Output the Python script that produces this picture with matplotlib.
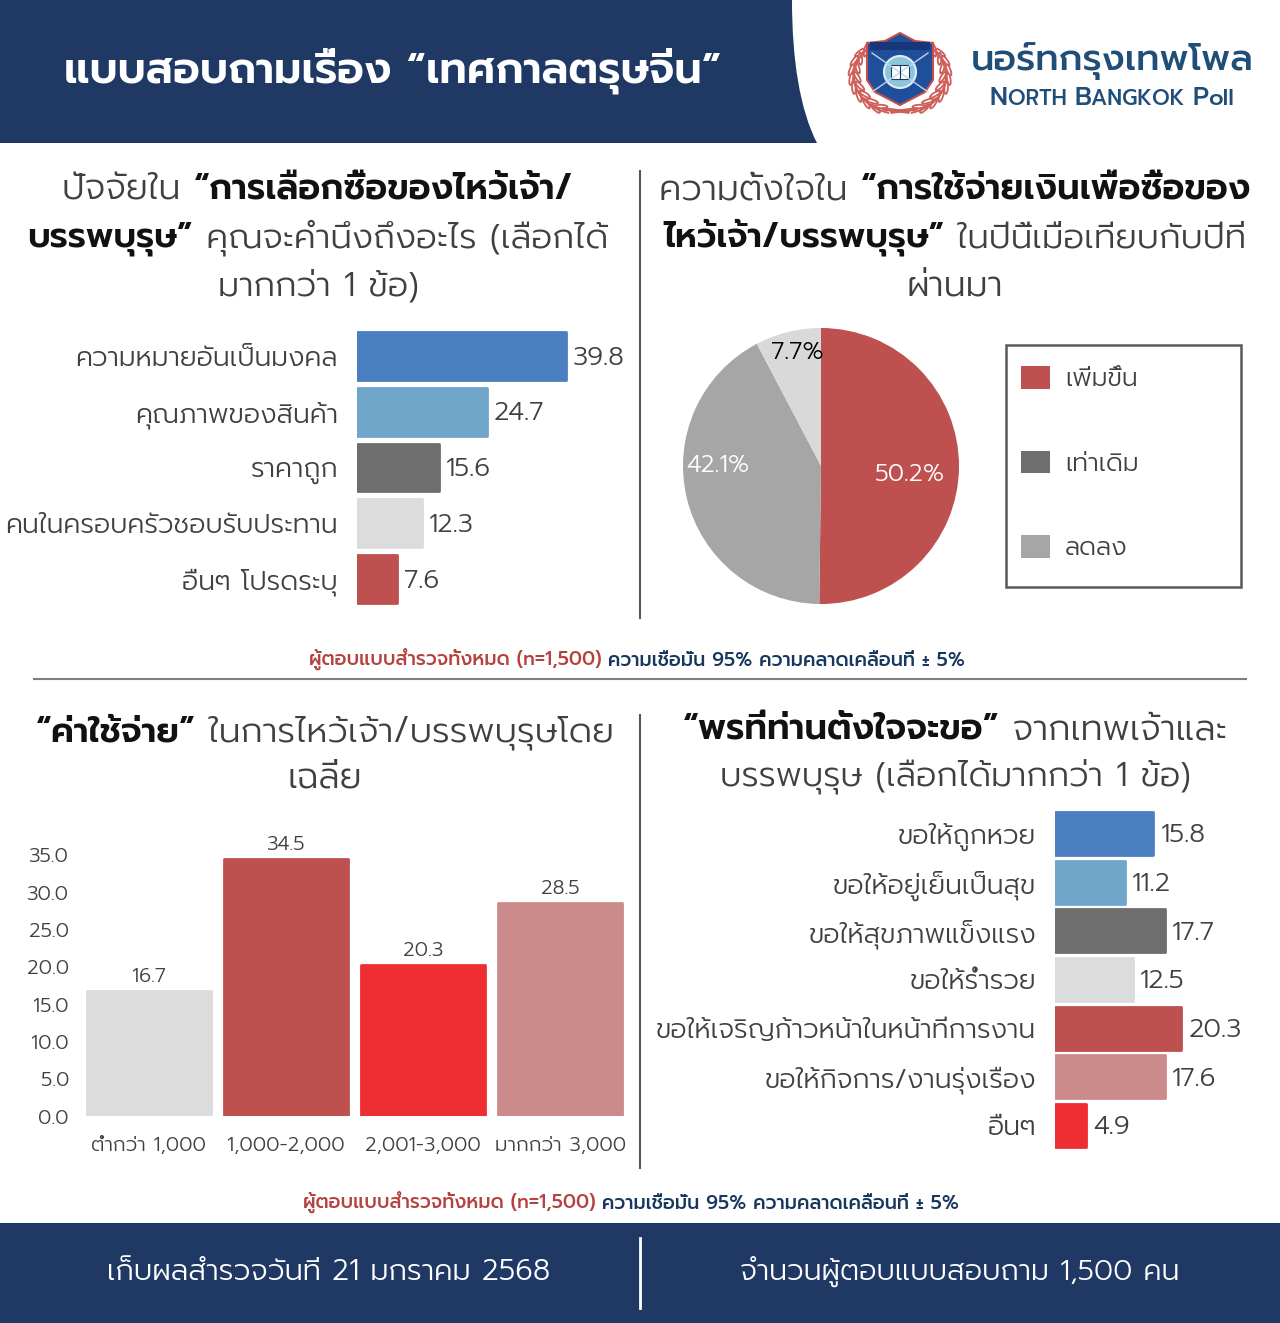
import numpy as np
import matplotlib
matplotlib.use('Agg')
import matplotlib.pyplot as plt
from matplotlib.patches import Rectangle, Polygon, Ellipse, Circle, PathPatch
from matplotlib.path import Path

W, H = 1280, 1323
FONT = ['Prompt', 'Kanit', 'Noto Sans', 'DejaVu Sans']
plt.rcParams['font.family'] = FONT
NAVY = '#1F3864'
RED = '#BE5050'
BLUE = '#4A80C2'
LBLUE = '#70A6C9'
DGRAY = '#6E6E6E'
LGRAY = '#DCDCDC'
PINK = '#CC8B8B'
BRED = '#EE2E33'
TXT = '#404040'

# ---- data ----
factor_labels = ['ความหมายอันเป็นมงคล', 'คุณภาพของสินค้า', 'ราคาถูก', 'คนในครอบครัวชอบรับประทาน', 'อื่นๆ โปรดระบุ']
factor_values = [39.8, 24.7, 15.6, 12.3, 7.6]
factor_colors = [BLUE, LBLUE, DGRAY, LGRAY, RED]

intent_values = [50.2, 42.1, 7.7]
intent_names = ['เพิ่มขึ้น', 'เท่าเดิม', 'ลดลง']
intent_colors = [RED, '#A6A6A6', '#D9D9D9']
intent_text = ['white', 'white', 'black']
legend_colors = [RED, '#6E6E6E', '#A6A6A6']

cost_labels = ['ต่ำกว่า 1,000', '1,000-2,000', '2,001-3,000', 'มากกว่า 3,000']
cost_values = [16.7, 34.5, 20.3, 28.5]
cost_colors = [LGRAY, RED, BRED, PINK]
cost_ticks = [0, 5, 10, 15, 20, 25, 30, 35]

wish_labels = ['ขอให้ถูกหวย', 'ขอให้อยู่เย็นเป็นสุข', 'ขอให้สุขภาพแข็งแรง', 'ขอให้ร่ำรวย',
               'ขอให้เจริญก้าวหน้าในหน้าที่การงาน', 'ขอให้กิจการ/งานรุ่งเรือง', 'อื่นๆ']
wish_values = [15.8, 11.2, 17.7, 12.5, 20.3, 17.6, 4.9]
wish_colors = [BLUE, LBLUE, DGRAY, LGRAY, RED, PINK, BRED]

fig = plt.figure(figsize=(W / 100, H / 100), dpi=100, facecolor='white')
bg = fig.add_axes([0, 0, 1, 1])
bg.set_xlim(0, W)
bg.set_ylim(H, 0)
bg.axis('off')
renderer = fig.canvas.get_renderer()


def axpx(x0, y0, x1, y1):
    ax = fig.add_axes([x0 / W, 1 - y1 / H, (x1 - x0) / W, (y1 - y0) / H])
    ax.patch.set_alpha(0)
    return ax


def runs(cx, y, parts, size):
    """parts = (text, weight, colour[, size]); centred on cx, on baseline y in pixels."""
    made = [bg.text(0, y, p[0], fontsize=p[3] if len(p) > 3 else size, fontweight=p[1], color=p[2],
                    va='baseline', ha='left') for p in parts]
    widths = [m.get_window_extent(renderer).width for m in made]
    x = cx - sum(widths) / 2
    for m, wd in zip(made, widths):
        m.set_x(x)
        x += wd


# ---- header and footer ----
bg.add_patch(Rectangle((0, 0), W, 143, fc=NAVY, ec='none'))
bg.add_patch(PathPatch(Path([(792, 0), (792, 60), (800, 110), (817, 143), (W, 143), (W, 0), (792, 0)],
                            [Path.MOVETO, Path.CURVE4, Path.CURVE4, Path.CURVE4, Path.LINETO, Path.LINETO, Path.CLOSEPOLY]),
                       fc='white', ec='none'))
bg.add_patch(Rectangle((0, 1223), W, 100, fc=NAVY, ec='none'))
bg.plot([640, 640], [1238, 1308], color='white', lw=2)
runs(393, 83, [('แบบสอบถามเรื่อง “เทศกาลตรุษจีน”', 600, 'white')], 31)
runs(329, 1280, [('เก็บผลสำรวจวันที่ 21 มกราคม 2568', 300, 'white')], 21.1)
runs(960, 1280, [('จำนวนผู้ตอบแบบสอบถาม 1,500 คน', 300, 'white')], 20.8)

# logo
LOGO = '#1F4E79'
runs(1112, 70, [('นอร์ทกรุงเทพโพล', 500, LOGO)], 26.5)
runs(1112, 105, [('N', 500, LOGO, 18.7), ('ORTH ', 500, LOGO, 15.4), ('B', 500, LOGO, 18.7), ('ANGKOK ', 500, LOGO, 15.4),
                 ('P', 500, LOGO, 18.7), ('oll', 500, LOGO, 16.5)], 16)
LEAF = '#CF5F5A'
for sgn in (-1, 1):
    t = np.linspace(-42, 75, 40)
    bg.plot(900 + sgn * 46 * np.cos(np.deg2rad(t)), 76 + 38 * np.sin(np.deg2rad(t)), color=LEAF, lw=1.5)
    for th in np.linspace(-36, 62, 8):
        r = np.deg2rad(th)
        px = 900 + sgn * 46 * np.cos(r)
        py = 76 + 38 * np.sin(r)
        bg.add_patch(Ellipse((px - sgn * 3, py - 3), 3.5, 12, angle=sgn * (th + 25), fc='white', ec=LEAF, lw=1.3))
        bg.add_patch(Ellipse((px + sgn * 3, py - 1), 3.5, 12, angle=sgn * (th - 15), fc='white', ec=LEAF, lw=1.3))
    bg.plot([900 - sgn * 8, 900 + sgn * 16], [112, 109], color=LEAF, lw=2.5)
bg.add_patch(Polygon([(867, 43), (885, 41), (900, 33), (915, 41), (933, 43), (933, 80), (925, 92), (900, 105), (875, 92), (867, 80)],
                     closed=True, fc='#1F4E9A', ec='#C0504D', lw=1.5))
bg.add_patch(Rectangle((870, 42), 60, 8, fc='#17377A', ec='none'))
bg.plot([872, 928], [53, 92], color='#BFD4EA', lw=1)
bg.plot([928, 872], [53, 92], color='#BFD4EA', lw=1)
bg.add_patch(Circle((900, 72), 16, fc='#8CC6DC', ec='#DDEFF5', lw=1.5))
bg.add_patch(Rectangle((891, 65), 18, 14, fc='white', ec='#1F3864', lw=0.8))
bg.plot([900, 900], [65, 79], color='#1F3864', lw=0.8)

# ---- panel headings ----
GR, BK = TXT, '#111111'
SZ = 25.5
runs(318, 200, [('ปัจจัยใน ', 300, GR), ('“การเลือกซื้อของไหว้เจ้า/', 600, BK)], SZ)
runs(318, 247, [('บรรพบุรุษ”', 600, BK), (' คุณจะคำนึงถึงอะไร (เลือกได้', 300, GR)], 25)
runs(318, 295, [('มากกว่า 1 ข้อ)', 300, GR)], 24.5)
runs(955, 200, [('ความตั้งใจใน ', 300, GR), ('“การใช้จ่ายเงินเพื่อซื้อของ', 600, BK)], SZ)
runs(955, 247, [('ไหว้เจ้า/บรรพบุรุษ”', 600, BK), (' ในปีนี้เมื่อเทียบกับปีที่', 300, GR)], 24.9)
runs(955, 295, [('ผ่านมา', 300, GR)], SZ)
runs(325, 741, [('“ค่าใช้จ่าย”', 600, BK), (' ในการไหว้เจ้า/บรรพบุรุษโดย', 300, GR)], 25.3)
runs(325, 788, [('เฉลี่ย', 300, GR)], SZ)
runs(955, 739, [('“พรที่ท่านตั้งใจจะขอ”', 600, BK), (' จากเทพเจ้าและ', 300, GR)], SZ)
runs(955, 786, [('บรรพบุรุษ (เลือกได้มากกว่า 1 ข้อ)', 300, GR)], 24.4)

# notes and rules
NOTE_R, NOTE_B = '#B5423F', '#17375E'
for cx, by in ((637, 666), (631, 1209)):
    runs(cx, by, [('ผู้ตอบแบบสำรวจทั้งหมด (n=1,500)', 500, NOTE_R),
                  (' ความเชื่อมั่น 95% ความคลาดเคลื่อนที่ ± 5%', 500, NOTE_B)], 13.85)
bg.plot([640, 640], [171, 618], color='#595959', lw=1.5)
bg.plot([640, 640], [715, 1168], color='#595959', lw=1.5)
bg.plot([34, 1246], [679, 679], color='#7F7F7F', lw=1.5)


def round_bars(bars, colors):
    for b, c in zip(bars, colors):
        b.set_facecolor(c)
        b.set_edgecolor(c)
        b.set_linewidth(2)
        b.set_joinstyle('round')


def hbars(ax, labels, values, colors, scale, x0, x1, height, fs, vpad):
    pos = np.arange(len(values))
    bars = ax.barh(pos, values, height=height)
    round_bars(bars, colors)
    ax.set_xlim(0, (x1 - x0) / scale)
    ax.set_ylim(len(values) - 0.5, -0.5)
    ax.set_yticks(pos, labels, fontsize=fs + 0.4, fontweight=300, color=TXT)
    ax.tick_params(axis='y', length=0, pad=14)
    ax.set_xticks([])
    for s in ax.spines.values():
        s.set_visible(False)
    for p, v in zip(pos, values):
        ax.annotate(f'{v}', (v, p), xytext=(vpad, -2), textcoords='offset pixels', va='center',
                    ha='left', fontsize=fs, fontweight=300, color=TXT)


# ---- factor bars ----
ax1 = axpx(357.4, 328, 640, 607)
hbars(ax1, factor_labels, factor_values, factor_colors, 5.24, 357.4, 640, 0.86, 19, 7)

# ---- pie ----
ax2 = axpx(683, 328, 959, 604)
wedges, _ = ax2.pie(intent_values, colors=intent_colors, startangle=90, counterclock=False, radius=1)
ax2.set_xlim(-1, 1)
ax2.set_ylim(-1, 1)
pie_label_xy = [(0.645, -0.065), (-0.746, 0.007), (-0.174, 0.819)]
for (lx, ly), v, c in zip(pie_label_xy, intent_values, intent_text):
    ax2.text(lx, ly, f'{v}%', color=c, fontsize=17.5, fontweight=300, ha='center', va='center')
bg.add_patch(Rectangle((1006, 345), 235, 242, fc='white', ec='#595959', lw=1.8))
leg_h = [Rectangle((0, 0), 1, 1, fc=c, ec='none') for c in legend_colors]
leg = fig.legend(leg_h, intent_names, loc='upper left', bbox_to_anchor=(1021 / W, 1 - 366 / H),
                 frameon=False, prop={'weight': 300, 'size': 18.3},
                 handlelength=1.14, handleheight=1.0, labelspacing=2.3, borderpad=0, handletextpad=0.6,
                 borderaxespad=0)
for t in leg.get_texts():
    t.set_color(TXT)

# ---- cost bars ----
ax3 = axpx(80, 855, 629, 1116)
pos3 = np.arange(len(cost_values))
bars3 = ax3.bar(pos3, cost_values, width=0.905)
round_bars(bars3, cost_colors)
ax3.set_xlim(-0.5, 3.5)
ax3.set_ylim(0, 35)
ax3.set_yticks(cost_ticks, [f'{t:.1f}' for t in cost_ticks], fontsize=14.5, fontweight=300, color=TXT)
ax3.set_xticks(pos3, cost_labels, fontsize=14.5, fontweight=300, color=TXT)
ax3.tick_params(length=0, pad=8)
ax3.tick_params(axis='x', pad=14.5)
for s in ax3.spines.values():
    s.set_visible(False)
for p, v in zip(pos3, cost_values):
    ax3.annotate(f'{v}', (p, v), xytext=(0, 5), textcoords='offset pixels', ha='center', va='bottom',
                 fontsize=14.5, fontweight=300, color=TXT)

# ---- wish bars ----
ax4 = axpx(1055.4, 809, 1275, 1150)
hbars(ax4, wish_labels, wish_values, wish_colors, 6.2, 1055.4, 1275, 0.88, 19, 7)

fig.savefig('out.png', dpi=100, facecolor='white')
